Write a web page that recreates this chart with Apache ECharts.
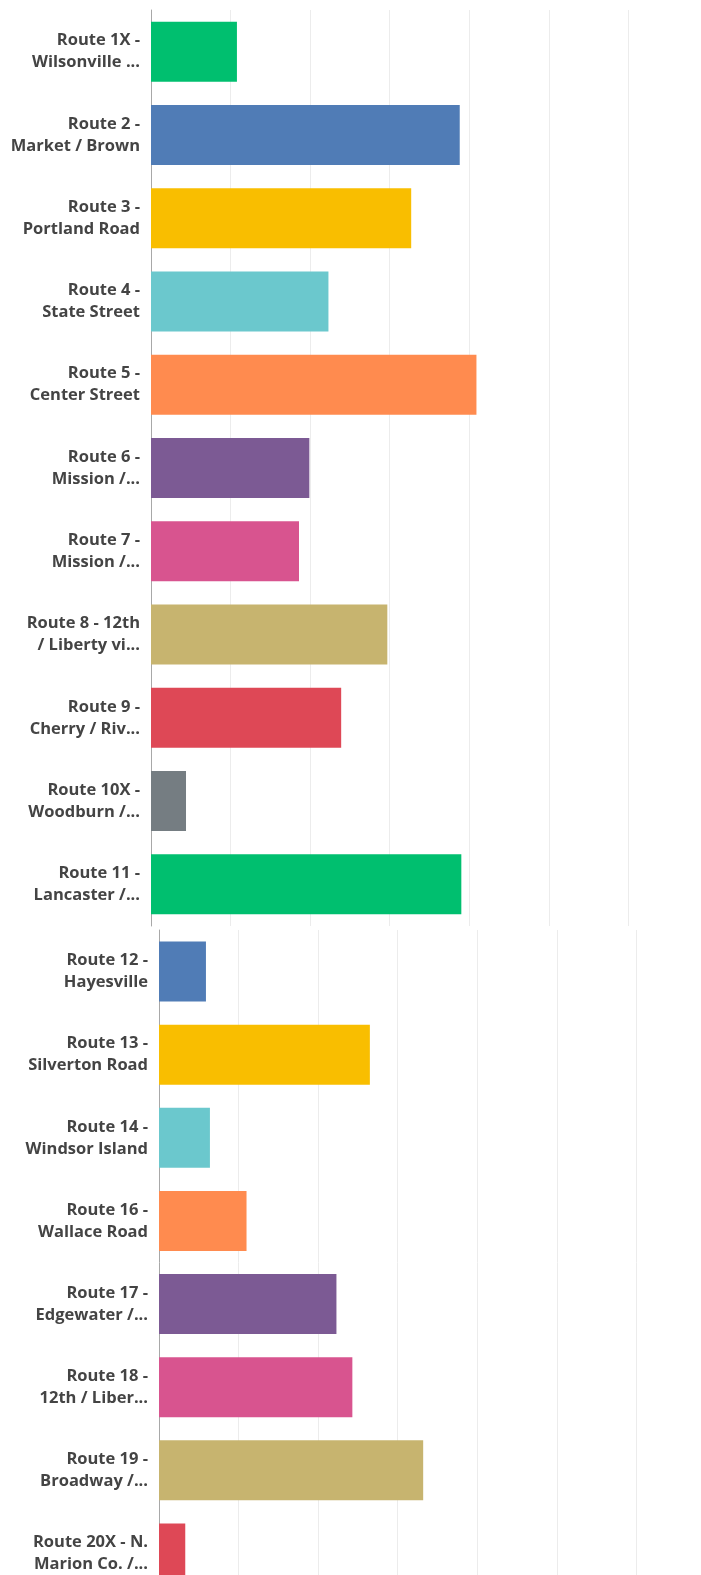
<!DOCTYPE html>
<html>
<head>
<meta charset="utf-8">
<script src="https://cdn.jsdelivr.net/npm/echarts@6/dist/echarts.min.js"></script>
<style>
html,body{margin:0;padding:0;background:#fff;overflow:hidden;width:701px;height:1575px;}
#chart{width:720px;height:1600px;}
</style>
</head>
<body>
<div id="chart"></div>
<script>
const topCategories = [
  "Route 1X -\nWilsonville ...",
  "Route 2 -\nMarket / Brown",
  "Route 3 -\nPortland Road",
  "Route 4 -\nState Street",
  "Route 5 -\nCenter Street",
  "Route 6 -\nMission /...",
  "Route 7 -\nMission /...",
  "Route 8 - 12th\n/ Liberty vi...",
  "Route 9 -\nCherry / Riv...",
  "Route 10X -\nWoodburn /...",
  "Route 11 -\nLancaster /..."
];
const topValues = [10.8, 38.8, 32.7, 22.3, 40.9, 19.9, 18.6, 29.7, 23.9, 4.4, 39.0];

const bottomCategories = [
  "Route 12 -\nHayesville",
  "Route 13 -\nSilverton Road",
  "Route 14 -\nWindsor Island",
  "Route 16 -\nWallace Road",
  "Route 17 -\nEdgewater /...",
  "Route 18 -\n12th / Liber...",
  "Route 19 -\nBroadway /...",
  "Route 20X - N.\nMarion Co. /..."
];
const bottomValues = [5.9, 26.5, 6.4, 11.0, 22.3, 24.3, 33.2, 3.3];

const topColors = ["#00BF6F", "#507CB6", "#F9BE00", "#6BC8CD", "#FF8B4F", "#7C5A94", "#D8548F", "#C7B46F", "#DE4856", "#757D82", "#00BF6F"];
const bottomColors = ["#507CB6", "#F9BE00", "#6BC8CD", "#FF8B4F", "#7C5A94", "#D8548F", "#C7B46F", "#DE4856"];

const axisMax = 70;
const axisStep = 10;

function colored(vals, cols) {
  return vals.map((v, i) => ({ value: v, itemStyle: { color: cols[i] } }));
}

const labelStyle = {
  fontFamily: "'Open Sans', Roboto, sans-serif",
  fontWeight: "bold",
  fontSize: 16.5,
  color: "#444",
  lineHeight: 22,
  align: "right",
  margin: 11
};

const xAxisBase = {
  type: "value", min: 0, max: axisMax, interval: axisStep,
  axisLabel: { show: false }, axisTick: { show: false }, axisLine: { show: false },
  splitLine: { show: true, lineStyle: { color: "#ececec", width: 1 } }
};
const yAxisBase = {
  type: "category", inverse: true,
  axisTick: { show: false },
  axisLine: { show: true, lineStyle: { color: "#a8a8a8", width: 1 } },
  axisLabel: labelStyle
};

const chart = echarts.init(document.getElementById("chart"), null, { renderer: "canvas" });
chart.setOption({
  animation: false,
  backgroundColor: "#ffffff",
  grid: [
    { left: 151, top: 10, width: 557, height: 916 },
    { left: 159, top: 930, width: 557, height: 665 }
  ],
  xAxis: [
    Object.assign({ gridIndex: 0 }, xAxisBase),
    Object.assign({ gridIndex: 1 }, xAxisBase)
  ],
  yAxis: [
    Object.assign({ gridIndex: 0, data: topCategories }, yAxisBase),
    Object.assign({ gridIndex: 1, data: bottomCategories }, yAxisBase)
  ],
  series: [
    { type: "bar", xAxisIndex: 0, yAxisIndex: 0, barWidth: 60, data: colored(topValues, topColors) },
    { type: "bar", xAxisIndex: 1, yAxisIndex: 1, barWidth: 60, data: colored(bottomValues, bottomColors) }
  ]
});
</script>
</body>
</html>
